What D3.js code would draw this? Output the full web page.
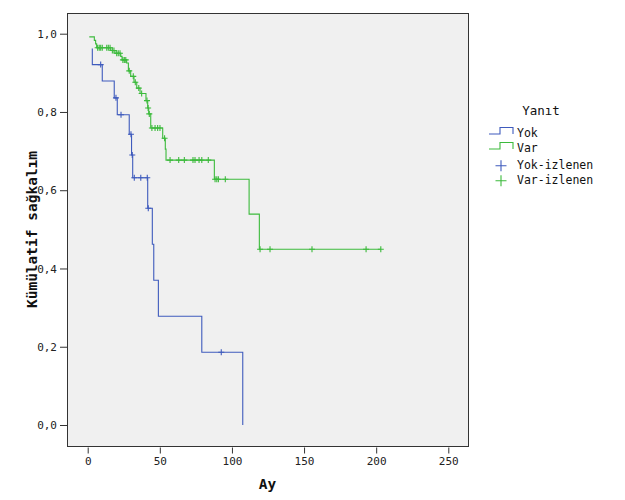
<!DOCTYPE html>
<html><head><meta charset="utf-8">
<script src="https://cdn.jsdelivr.net/npm/d3@7"></script>
<style>
html,body{margin:0;padding:0;background:#fff;}
svg{display:block;}
</style></head>
<body>
<svg id="chart" width="625" height="500"></svg>
<script>
// ---- data ----
const xTicks = [0, 50, 100, 150, 200, 250];
const yTicks = [0, 0.2, 0.4, 0.6, 0.8, 1.0];
const yTickLabels = ["0,0", "0,2", "0,4", "0,6", "0,8", "1,0"];

// Yok group: event times and survival after each event
const yokTimes = [2.8, 3.2, 10.1, 18.4, 20.5, 28.8, 30.4, 31.2, 41.6, 44.8, 45.8, 49.0, 79.1, 107.5];
const yokSurv  = [0.961, 0.921, 0.879, 0.836, 0.793, 0.743, 0.690, 0.632, 0.554, 0.462, 0.370, 0.278, 0.186, 0.0];
const yokCensor = [9.0, 19.6, 23.1, 30.0, 30.9, 32.3, 36.8, 41.3, 42.0, 92.6];

// Var group
const varTimes = [1.1, 4.6, 5.5, 6.2, 16.0, 18.9, 22.9, 23.8, 27.0, 28.2, 29.8, 32.1, 34.0, 36.3, 40.4, 41.6, 42.3, 43.7, 52.0, 53.8, 54.3, 87.8, 111.9, 119.0];
const varSurv  = [0.992, 0.983, 0.974, 0.964, 0.957, 0.950, 0.942, 0.933, 0.925, 0.905, 0.891, 0.876, 0.861, 0.847, 0.829, 0.810, 0.795, 0.759, 0.733, 0.705, 0.677, 0.628, 0.539, 0.449];
const varCensor = [6.9, 8.0, 9.0, 10.1, 13.2, 14.3, 15.5, 17.1, 18.2, 20.1, 21.2, 22.4, 24.4, 25.4, 26.4, 28.8, 31.6, 33.0, 35.4, 37.4, 41.1, 41.9, 42.7, 44.5, 46.7, 48.5, 50.1, 53.3, 57.1, 63.1, 67.0, 73.0, 74.4, 77.2, 79.1, 83.6, 88.3, 89.5, 90.6, 95.4, 119.5, 126.4, 155.5, 193.0, 203.2];

const seriesNames = ["Yok", "Var"];
const censorNames = ["Yok-izlenen", "Var-izlenen"];
const colors = ["#3f5bbd", "#3cba3c"];
const legendTitle = "Yanıt";
const xTitle = "Ay";
const yTitle = "Kümülatif sağkalım";

// ---- layout ----
const svg = d3.select("#chart");
const frame = {l: 67, t: 13, r: 468, b: 446};
const x = d3.scaleLinear().domain([0, 250]).range([87.7, 448.3]);
const y = d3.scaleLinear().domain([0, 1]).range([425, 33.7]);
const mono = "'DejaVu Sans Mono', 'Liberation Mono', monospace";

svg.append("rect").attr("x", frame.l + 0.5).attr("y", frame.t + 0.5)
  .attr("width", frame.r - frame.l).attr("height", frame.b - frame.t)
  .attr("fill", "#f0f0f0").attr("stroke", "#333").attr("stroke-width", 1);

// axes
const xAxis = d3.axisBottom(x).tickValues(xTicks).tickSize(6).tickPadding(4).tickFormat(d3.format("d"));
const gx = svg.append("g").attr("transform", `translate(0,${frame.b + 1.5})`).call(xAxis);
gx.select(".domain").remove();
const yAxis = d3.axisLeft(y).tickValues(yTicks).tickSize(7).tickPadding(3)
  .tickFormat((d, i) => yTickLabels[i]);
const gy = svg.append("g").attr("transform", `translate(${frame.l},0)`).call(yAxis);
gy.select(".domain").remove();
[gx, gy].forEach(g => {
  g.selectAll("line").attr("stroke", "#333");
  g.selectAll("text").attr("font-family", mono).attr("font-size", 11).attr("fill", "#222");
});

// axis titles
svg.append("text").attr("x", (frame.l + frame.r) / 2).attr("y", 489)
  .attr("text-anchor", "middle").attr("font-family", mono).attr("font-weight", "bold")
  .attr("font-size", 14.5).attr("fill", "#111").text(xTitle);
svg.append("text").attr("transform", `translate(37,${(frame.t + frame.b) / 2}) rotate(-90)`)
  .attr("text-anchor", "middle").attr("font-family", mono).attr("font-weight", "bold")
  .attr("font-size", 14.5).attr("fill", "#111").text(yTitle);

// curves
function survAt(times, surv, t) {
  let s = 1;
  for (let i = 0; i < times.length; i++) if (times[i] <= t) s = surv[i];
  return s;
}
const line = d3.line().x(d => x(d[0])).y(d => y(d[1])).curve(d3.curveStepAfter);
const groups = [
  {times: yokTimes, surv: yokSurv, cens: yokCensor},
  {times: varTimes, surv: varSurv, cens: varCensor}
];
groups.forEach((g, gi) => {
  const pts = g.times.map((t, i) => [t, g.surv[i]]);
  const lastT = Math.max(d3.max(g.times), d3.max(g.cens));
  if (lastT > d3.max(g.times)) pts.push([lastT, g.surv[g.surv.length - 1]]);
  svg.append("path").attr("d", line(pts)).attr("fill", "none")
    .attr("stroke", colors[gi]).attr("stroke-width", 1.1);
  svg.append("g").selectAll("path").data(g.cens).join("path")
    .attr("d", t => {
      const cx = x(t), cy = y(survAt(g.times, g.surv, t));
      return `M${cx - 3},${cy}H${cx + 3}M${cx},${cy - 3}V${cy + 3}`;
    })
    .attr("stroke", colors[gi]).attr("stroke-width", 1.1).attr("fill", "none");
});

// legend
const lg = svg.append("g");
lg.append("text").attr("x", 541).attr("y", 115).attr("text-anchor", "middle")
  .attr("font-family", mono).attr("font-size", 12.5).attr("fill", "#111").text(legendTitle);
seriesNames.forEach((n, i) => {
  const yy = 134 + i * 15;
  lg.append("path").attr("d", `M489,${yy}H500V${yy - 6.5}H513V${yy}`)
    .attr("fill", "none").attr("stroke", colors[i]).attr("stroke-width", 1.1);
  lg.append("text").attr("x", 517).attr("y", yy + 3).attr("font-family", mono)
    .attr("font-size", 11.5).attr("fill", "#111").text(n);
});
censorNames.forEach((n, i) => {
  const yy = 165.7 + i * 15;
  lg.append("path").attr("d", `M495.5,${yy}H506.5M501,${yy - 5.5}V${yy + 5.5}`)
    .attr("fill", "none").attr("stroke", colors[i]).attr("stroke-width", 1.1);
  lg.append("text").attr("x", 517).attr("y", yy + 3.5).attr("font-family", mono)
    .attr("font-size", 11.5).attr("fill", "#111").text(n);
});
</script>
</body></html>
